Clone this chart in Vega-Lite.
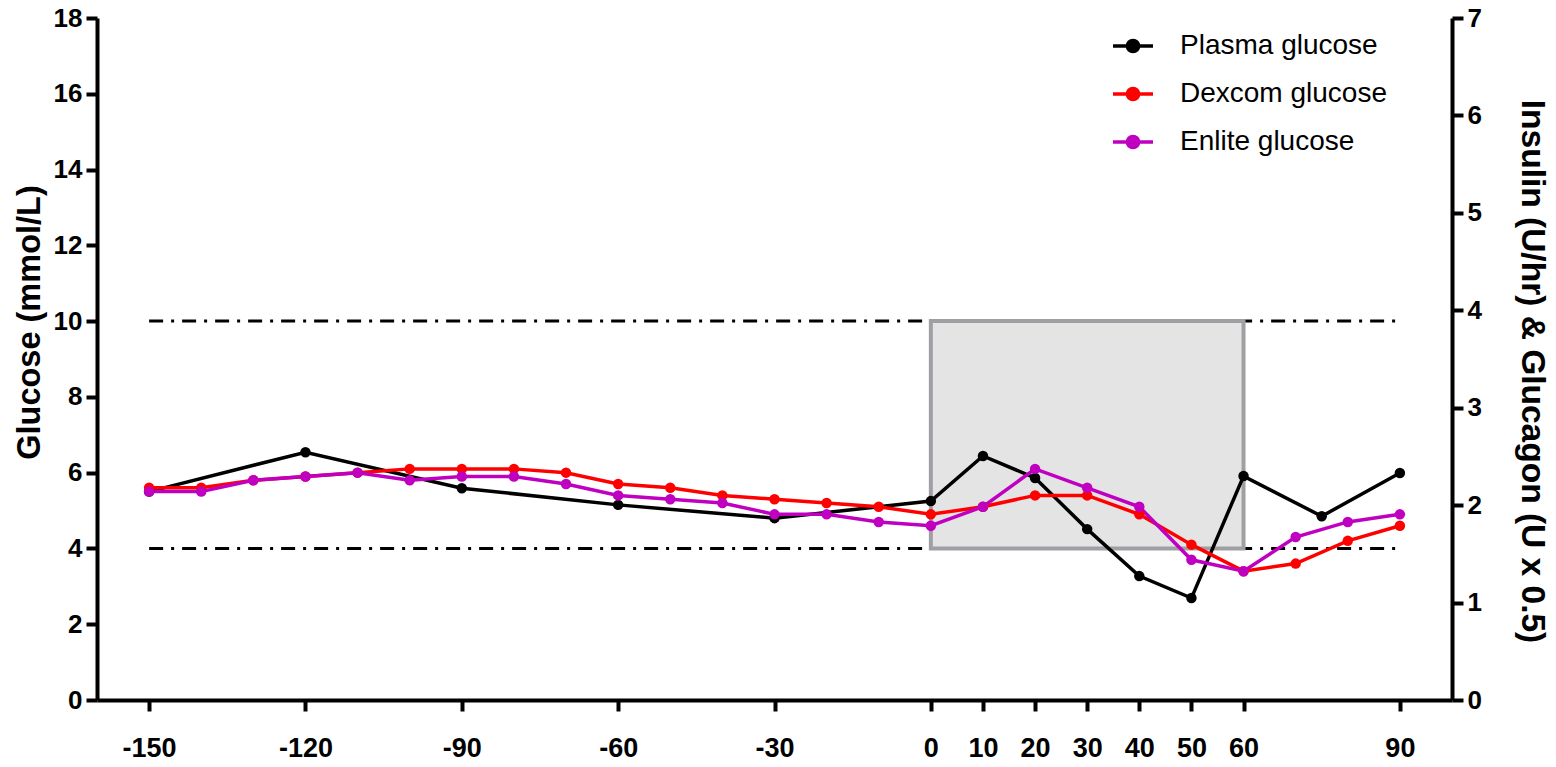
{
  "$schema": "https://vega.github.io/schema/vega-lite/v6.json",
  "width": 1355,
  "height": 682,
  "autosize": {"type": "none"},
  "padding": {"left": 97, "top": 18, "right": 104, "bottom": 67},
  "background": "white",
  "config": {
    "view": {"stroke": null},
    "font": "Liberation Sans",
    "axis": {
      "domainColor": "black",
      "domainWidth": 4,
      "tickColor": "black",
      "tickWidth": 4,
      "tickSize": 11,
      "grid": false,
      "labelFont": "Liberation Sans",
      "labelFontWeight": "bold",
      "labelColor": "black",
      "titleFont": "Liberation Sans",
      "titleFontWeight": "bold",
      "titleColor": "black"
    }
  },
  "datasets": {
    "glucose": [
      {"t": -150, "g": 5.5, "series": "Plasma glucose"},
      {"t": -120, "g": 6.54, "series": "Plasma glucose"},
      {"t": -90, "g": 5.59, "series": "Plasma glucose"},
      {"t": -60, "g": 5.15, "series": "Plasma glucose"},
      {"t": -30, "g": 4.8, "series": "Plasma glucose"},
      {"t": 0, "g": 5.25, "series": "Plasma glucose"},
      {"t": 10, "g": 6.44, "series": "Plasma glucose"},
      {"t": 20, "g": 5.86, "series": "Plasma glucose"},
      {"t": 30, "g": 4.51, "series": "Plasma glucose"},
      {"t": 40, "g": 3.27, "series": "Plasma glucose"},
      {"t": 50, "g": 2.69, "series": "Plasma glucose"},
      {"t": 60, "g": 5.91, "series": "Plasma glucose"},
      {"t": 75, "g": 4.85, "series": "Plasma glucose"},
      {"t": 90, "g": 5.99, "series": "Plasma glucose"},
      {"t": -150, "g": 5.6, "series": "Dexcom glucose"},
      {"t": -140, "g": 5.6, "series": "Dexcom glucose"},
      {"t": -130, "g": 5.8, "series": "Dexcom glucose"},
      {"t": -120, "g": 5.9, "series": "Dexcom glucose"},
      {"t": -110, "g": 6.0, "series": "Dexcom glucose"},
      {"t": -100, "g": 6.1, "series": "Dexcom glucose"},
      {"t": -90, "g": 6.1, "series": "Dexcom glucose"},
      {"t": -80, "g": 6.1, "series": "Dexcom glucose"},
      {"t": -70, "g": 6.0, "series": "Dexcom glucose"},
      {"t": -60, "g": 5.7, "series": "Dexcom glucose"},
      {"t": -50, "g": 5.6, "series": "Dexcom glucose"},
      {"t": -40, "g": 5.4, "series": "Dexcom glucose"},
      {"t": -30, "g": 5.3, "series": "Dexcom glucose"},
      {"t": -20, "g": 5.2, "series": "Dexcom glucose"},
      {"t": -10, "g": 5.1, "series": "Dexcom glucose"},
      {"t": 0, "g": 4.9, "series": "Dexcom glucose"},
      {"t": 10, "g": 5.1, "series": "Dexcom glucose"},
      {"t": 20, "g": 5.4, "series": "Dexcom glucose"},
      {"t": 30, "g": 5.4, "series": "Dexcom glucose"},
      {"t": 40, "g": 4.9, "series": "Dexcom glucose"},
      {"t": 50, "g": 4.1, "series": "Dexcom glucose"},
      {"t": 60, "g": 3.4, "series": "Dexcom glucose"},
      {"t": 70, "g": 3.6, "series": "Dexcom glucose"},
      {"t": 80, "g": 4.2, "series": "Dexcom glucose"},
      {"t": 90, "g": 4.6, "series": "Dexcom glucose"},
      {"t": -150, "g": 5.5, "series": "Enlite glucose"},
      {"t": -140, "g": 5.5, "series": "Enlite glucose"},
      {"t": -130, "g": 5.8, "series": "Enlite glucose"},
      {"t": -120, "g": 5.9, "series": "Enlite glucose"},
      {"t": -110, "g": 6.0, "series": "Enlite glucose"},
      {"t": -100, "g": 5.8, "series": "Enlite glucose"},
      {"t": -90, "g": 5.9, "series": "Enlite glucose"},
      {"t": -80, "g": 5.9, "series": "Enlite glucose"},
      {"t": -70, "g": 5.7, "series": "Enlite glucose"},
      {"t": -60, "g": 5.4, "series": "Enlite glucose"},
      {"t": -50, "g": 5.3, "series": "Enlite glucose"},
      {"t": -40, "g": 5.2, "series": "Enlite glucose"},
      {"t": -30, "g": 4.9, "series": "Enlite glucose"},
      {"t": -20, "g": 4.9, "series": "Enlite glucose"},
      {"t": -10, "g": 4.7, "series": "Enlite glucose"},
      {"t": 0, "g": 4.6, "series": "Enlite glucose"},
      {"t": 10, "g": 5.1, "series": "Enlite glucose"},
      {"t": 20, "g": 6.1, "series": "Enlite glucose"},
      {"t": 30, "g": 5.6, "series": "Enlite glucose"},
      {"t": 40, "g": 5.1, "series": "Enlite glucose"},
      {"t": 50, "g": 3.7, "series": "Enlite glucose"},
      {"t": 60, "g": 3.4, "series": "Enlite glucose"},
      {"t": 70, "g": 4.3, "series": "Enlite glucose"},
      {"t": 80, "g": 4.7, "series": "Enlite glucose"},
      {"t": 90, "g": 4.9, "series": "Enlite glucose"}
    ],
    "thresholds": [
      {"t": -150, "t2": 90, "g": 10},
      {"t": -150, "t2": 90, "g": 4}
    ],
    "box": [
      {"t": 0, "t2": 60, "g": 4, "g2": 10}
    ],
    "insulin": [
      {"t": 100, "ins": 0},
      {"t": 100, "ins": 7}
    ]
  },
  "layer": [
    {
      "layer": [
        {
          "data": {"name": "thresholds"},
          "mark": {"type": "rule", "color": "black", "strokeWidth": 3, "strokeDash": [14, 8, 3, 8]},
          "encoding": {
            "x": {"field": "t", "type": "quantitative"},
            "x2": {"field": "t2"},
            "y": {"field": "g", "type": "quantitative", "title": "Glucose (mmol/L)"}
          }
        },
        {
          "data": {"name": "box"},
          "mark": {"type": "rect", "fill": "#e4e4e4", "stroke": "#a0a0a4", "strokeWidth": 4},
          "encoding": {
            "x": {"field": "t", "type": "quantitative"},
            "x2": {"field": "t2"},
            "y": {"field": "g", "type": "quantitative", "title": "Glucose (mmol/L)"},
            "y2": {"field": "g2"}
          }
        },
        {
          "data": {"name": "glucose"},
          "mark": {"type": "line", "strokeWidth": 3.5},
          "encoding": {
            "x": {
              "field": "t", "type": "quantitative",
              "scale": {"domain": [-160, 100], "nice": false, "zero": false},
              "axis": {"values": [-150, -120, -90, -60, -30, 0, 10, 20, 30, 40, 50, 60, 90], "title": null, "labelPadding": 24, "labelFontSize": 27, "labelExpr": "'' + datum.value"}
            },
            "y": {
              "field": "g", "type": "quantitative",
              "scale": {"domain": [0, 18], "nice": false},
              "axis": {"values": [0, 2, 4, 6, 8, 10, 12, 14, 16, 18], "title": "Glucose (mmol/L)", "labelPadding": 4, "labelFontSize": 26, "titleFontSize": 32.5, "titlePadding": 7, "titleY": 304}
            },
            "color": {
              "field": "series", "type": "nominal",
              "scale": {"domain": ["Plasma glucose", "Dexcom glucose", "Enlite glucose"], "range": ["black", "#ff0000", "#c000c0"]},
              "legend": {
                "title": null,
                "orient": "none",
                "legendX": 1014,
                "legendY": 6,
                "symbolType": "M-1,0L1,0M-0.28,0a0.28,0.28 0 1,0 0.56,0a0.28,0.28 0 1,0 -0.56,0",
                "symbolSize": 1600,
                "symbolStrokeWidth": 3.5,
                "labelFont": "Liberation Sans",
                "labelFontSize": 28,
                "labelLimit": 0,
                "labelColor": "black",
                "labelOffset": 25,
                "rowPadding": 12,
                "encode": {"symbols": {"update": {"fill": {"scale": "color", "field": "value"}, "stroke": {"scale": "color", "field": "value"}}}}
              }
            }
          }
        },
        {
          "data": {"name": "glucose"},
          "mark": {"type": "point", "filled": true, "opacity": 1, "size": 110},
          "encoding": {
            "x": {"field": "t", "type": "quantitative"},
            "y": {"field": "g", "type": "quantitative", "title": "Glucose (mmol/L)"},
            "color": {"field": "series", "type": "nominal"}
          }
        }
      ]
    },
    {
      "data": {"name": "insulin"},
      "mark": {"type": "point", "opacity": 0},
      "encoding": {
        "x": {"field": "t", "type": "quantitative"},
        "y": {
          "field": "ins", "type": "quantitative",
          "scale": {"domain": [0, 7], "nice": false},
          "axis": {"orient": "right", "values": [0, 1, 2, 3, 4, 5, 6, 7], "title": "Insulin (U/hr) & Glucagon (U x 0.5)", "titleAngle": 90, "titleFontSize": 33.5, "titlePadding": 33, "titleY": 353, "labelPadding": 4, "labelFontSize": 26}
        }
      }
    }
  ],
  "resolve": {"scale": {"y": "independent"}}
}
